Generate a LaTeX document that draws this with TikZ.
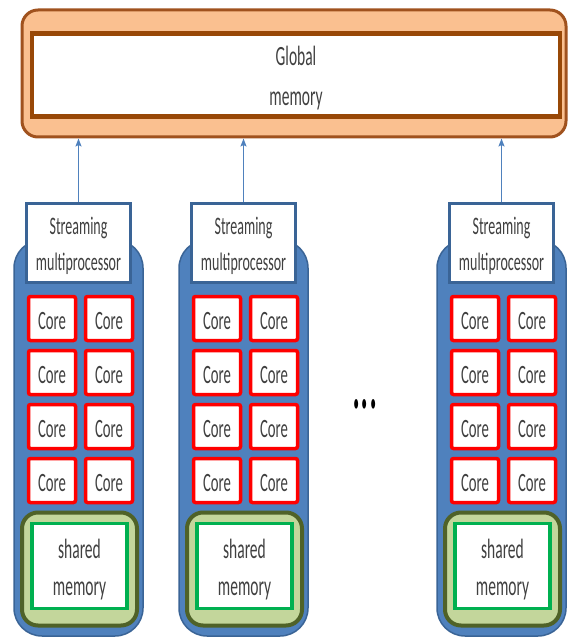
\documentclass[tikz,border=0pt]{standalone}
\usepackage{fontspec}
\setmainfont{Carlito}
\usepackage{graphicx}
\usetikzlibrary{arrows.meta}

\definecolor{orangefill}{HTML}{FAC090}
\definecolor{orangeline}{HTML}{A0521E}
\definecolor{brownline}{HTML}{984807}
\definecolor{smblue}{HTML}{4F81BD}
\definecolor{smblueline}{HTML}{3A6496}
\definecolor{corered}{HTML}{FF0000}
\definecolor{olivefill}{HTML}{C3D69B}
\definecolor{oliveline}{HTML}{4F6228}
\definecolor{shgreen}{HTML}{00B050}
\definecolor{txtgray}{HTML}{404040}

% tall, narrow lettering
\newcommand{\tall}[1]{\scalebox{1}[1.8]{#1}}
\newcommand{\twolines}[2]{\tall{\begin{tabular}{@{}c@{}}#1\\#2\end{tabular}}}

\begin{document}
\begin{tikzpicture}[x=1pt,y=-1pt,
  gmouter/.style={draw=orangeline, line width=3pt, fill=orangefill, rounded corners=16pt,
    minimum width=544pt, minimum height=127pt, inner sep=0pt},
  gminner/.style={draw=brownline, line width=4.5pt, fill=white,
    minimum width=528pt, minimum height=83pt, inner sep=0pt},
  gmtext/.style={inner sep=0pt, text=txtgray, font=\fontsize{15.5}{22}\selectfont},
  smbody/.style={draw=smblueline, line width=1.5pt, fill=smblue, rounded corners=28pt,
    minimum width=129pt, minimum height=396pt, inner sep=0pt},
  smlabel/.style={draw=smblueline, line width=3pt, fill=white,
    minimum width=104pt, minimum height=79pt, inner sep=0pt},
  smtext/.style={inner sep=0pt, text=txtgray, font=\fontsize{14}{20}\selectfont},
  corebox/.style={draw=corered, line width=3.5pt, fill=white, rounded corners=2pt,
    minimum width=47pt, minimum height=44pt, inner sep=0pt, text=txtgray,
    text height=22pt, text depth=0pt, font=\fontsize{14.7}{18}\selectfont},
  shouter/.style={draw=oliveline, line width=4pt, fill=olivefill, rounded corners=16pt,
    minimum width=115pt, minimum height=113pt, inner sep=0pt},
  shinner/.style={draw=shgreen, line width=3.5pt, fill=white,
    minimum width=95pt, minimum height=85pt, inner sep=0pt},
  shtext/.style={inner sep=0pt, text=txtgray, font=\fontsize{15.5}{21}\selectfont},
  uparrow/.style={draw=smblue, line width=1.5pt, -{Stealth[length=8pt,width=6pt,inset=1.5pt]}},
  dots/.style={font=\fontsize{33}{33}\selectfont, text=black, inner sep=0pt}
]
\useasboundingbox (0,0) rectangle (570,639);

% global memory
\node[gmouter] (gm) at (294,73.5) {};
\node[gminner] (gmi) at (296,75) {};
\node[gmtext] (gmt) at ([yshift=-2.5pt]gmi.center) {\twolines{Global}{memory}};

% streaming multiprocessors
\foreach \i/\c in {1/78.5, 2/243.5, 3/501.5} {
  \node[smbody] (body\i) at (\c,438) {};
  \node[smlabel] (sm\i) at (\c,242.5) {};
  \node[smtext] (smt\i) at ([yshift=-3pt]sm\i.center) {\twolines{Streaming}{multiprocessor}};
  \foreach \r/\y in {1/318.5, 2/372.5, 3/426.5, 4/480.5} {
    \node[corebox] (core\i-\r-a) at (\c-26.5,\y) {\tall{Core}};
    \node[corebox] (core\i-\r-b) at (\c+30.5,\y) {\tall{Core}};
  }
  \node[shouter] (shout\i) at (\c+1,569) {};
  \node[shinner] (sh\i) at (\c+1,566) {};
  \node[shtext] (sht\i) at ([yshift=-3.5pt]sh\i.center) {\twolines{shared}{memory}};
  \draw[uparrow] (sm\i.north) -- (sm\i.north |- gm.south);
}

% more multiprocessors in between
\node[dots] (more) at (365,404) {\scalebox{1}[2.4]{...}};
\end{tikzpicture}
\end{document}
